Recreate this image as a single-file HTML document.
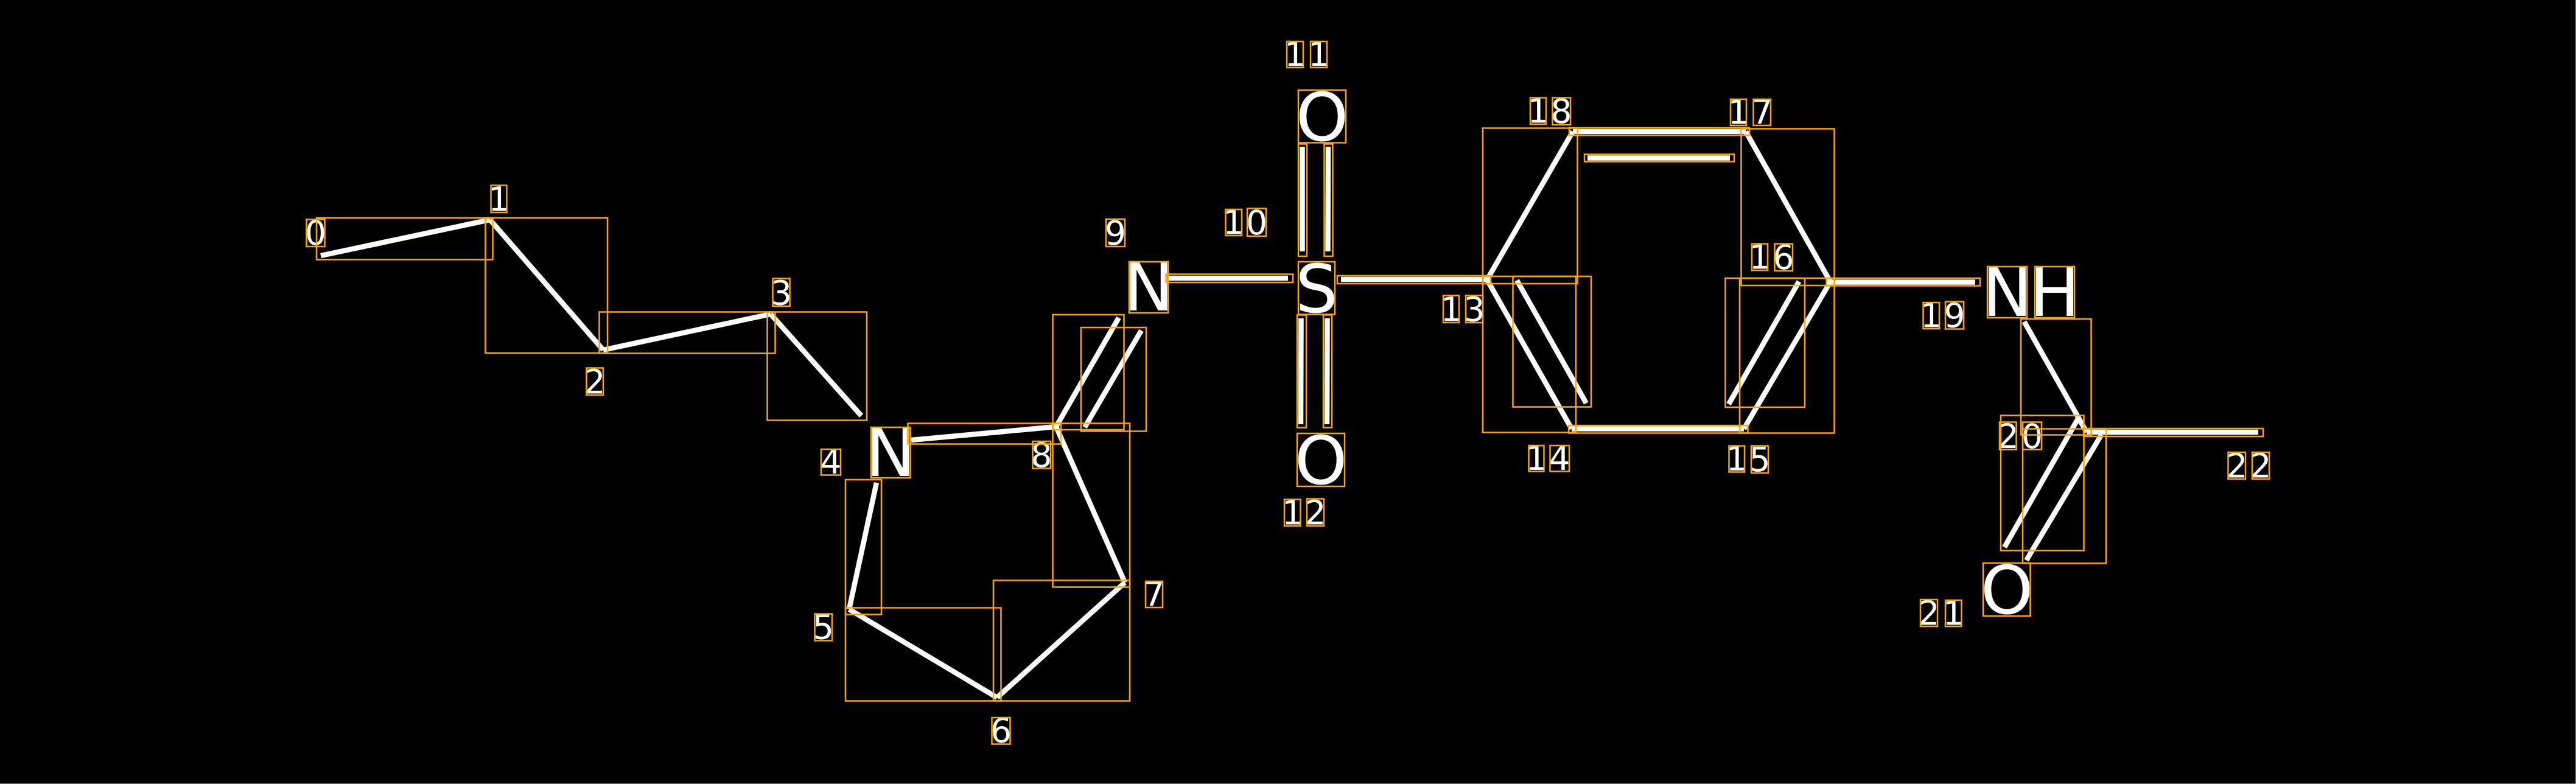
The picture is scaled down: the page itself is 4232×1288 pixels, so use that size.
<!DOCTYPE html>
<html>
<head>
<meta charset="utf-8">
<style>
html,body{margin:0;padding:0;background:#000;width:4232px;height:1288px;overflow:hidden}
svg{display:block}
.a{font-family:"DejaVu Sans",sans-serif;font-size:110px;fill:#fff;text-anchor:middle}
.n{font-family:"DejaVu Sans",sans-serif;font-size:55px;fill:#fff;text-anchor:middle}
.b line{stroke:#fff;stroke-width:8.5;stroke-linecap:butt}
.r rect{fill:none;stroke:#ffa500;stroke-width:2.5}
</style>
</head>
<body>
<svg xmlns="http://www.w3.org/2000/svg" width="4232" height="1288" viewBox="0 0 4232 1288">
<rect width="4232" height="1288" fill="#000"/>
<rect x="0" y="1287" width="4232" height="1" fill="#888"/>
<rect x="4231" y="0" width="1" height="1288" fill="#888"/>

<g class="b">
<line x1="527" y1="420" x2="805" y2="361"/>
<line x1="805" y1="361" x2="991" y2="575"/>
<line x1="991" y1="575" x2="1266" y2="516"/>
<line x1="1266" y1="516" x2="1415" y2="683"/>
<line x1="1497" y1="723" x2="1735" y2="701"/>
<line x1="1440" y1="793" x2="1395" y2="1001"/>
<line x1="1395" y1="1001" x2="1638" y2="1146"/>
<line x1="1638" y1="1146" x2="1848" y2="957"/>
<line x1="1848" y1="957" x2="1735" y2="701"/>
<line x1="1735" y1="701" x2="1838" y2="522"/>
<line x1="1782" y1="702" x2="1875" y2="543"/>
<line x1="1920" y1="457" x2="2116" y2="457"/>
<line x1="2139.5" y1="241" x2="2139.5" y2="413"/>
<line x1="2182" y1="241" x2="2181.5" y2="413"/>
<line x1="2137.5" y1="523" x2="2137" y2="697"/>
<line x1="2180.5" y1="523" x2="2180" y2="697"/>
<line x1="2203" y1="459" x2="2443" y2="459"/>
<line x1="2443" y1="459.5" x2="2584" y2="216"/>
<line x1="2584" y1="216" x2="2868" y2="216"/>
<line x1="2608" y1="259.5" x2="2842" y2="259.5"/>
<line x1="2868" y1="216" x2="3007" y2="463"/>
<line x1="3007" y1="463" x2="2865" y2="704.5"/>
<line x1="2955.5" y1="462.5" x2="2840" y2="664"/>
<line x1="2865" y1="704.5" x2="2582" y2="704.5"/>
<line x1="2582" y1="704.5" x2="2443" y2="459.5"/>
<line x1="2492" y1="460.5" x2="2606" y2="662.5"/>
<line x1="3007" y1="463.5" x2="3245" y2="463.5"/>
<line x1="3325.5" y1="528.5" x2="3428" y2="710"/>
<line x1="3415" y1="686" x2="3293" y2="899"/>
<line x1="3452.5" y1="714" x2="3329" y2="920.5"/>
<line x1="3428" y1="710" x2="3710" y2="710"/>
</g>

<g>
<text class="a" x="1463" y="782">N</text>
<text class="a" x="1887" y="510">N</text>
<text class="a" x="2172" y="231">O</text>
<text class="a" x="2163" y="513">S</text>
<text class="a" x="2170" y="795">O</text>
<text class="a" x="3297.5" y="519">N</text>
<text class="a" x="3375.5" y="519">H</text>
<text class="a" x="3297" y="1008">O</text>
</g>

<g>
<text class="n" x="518.5" y="402">0</text>
<text class="n" x="819.5" y="346.5">1</text>
<text class="n" x="977" y="646.5">2</text>
<text class="n" x="1283.5" y="500.5">3</text>
<text class="n" x="1365" y="778">4</text>
<text class="n" x="1352.5" y="1049.5">5</text>
<text class="n" x="1644.5" y="1219.5">6</text>
<text class="n" x="1896" y="995.5">7</text>
<text class="n" x="1711" y="767">8</text>
<text class="n" x="1832.5" y="402">9</text>
<text class="n" x="2026.5" y="384.5">1</text><text class="n" x="2064.5" y="385">0</text>
<text class="n" x="2127.5" y="108.5">1</text><text class="n" x="2166.5" y="108.5">1</text>
<text class="n" x="2123.5" y="861.5">1</text><text class="n" x="2161" y="861.5">2</text>
<text class="n" x="2384" y="527.5">1</text><text class="n" x="2422" y="527.5">3</text>
<text class="n" x="2524" y="772">1</text><text class="n" x="2562" y="772">4</text>
<text class="n" x="2853" y="773">1</text><text class="n" x="2891" y="774">5</text>
<text class="n" x="2891" y="441.5">1</text><text class="n" x="2930" y="442">6</text>
<text class="n" x="2856" y="203.5">1</text><text class="n" x="2895" y="203.5">7</text>
<text class="n" x="2527" y="201.5">1</text><text class="n" x="2565" y="202">8</text>
<text class="n" x="3172.5" y="537.5">1</text><text class="n" x="3211" y="537.5">9</text>
<text class="n" x="3299" y="736">2</text><text class="n" x="3338.5" y="736">0</text>
<text class="n" x="3169" y="1026.5">2</text><text class="n" x="3209" y="1026.5">1</text>
<text class="n" x="3675" y="784.5">2</text><text class="n" x="3714" y="784.5">2</text>
</g>

<g class="r">
<rect x="520" y="358" width="289.5" height="68.5"/>
<rect x="797.5" y="358" width="200.5" height="222"/>
<rect x="984.5" y="512.5" width="289" height="68"/>
<rect x="1260.5" y="512.5" width="163.5" height="178"/>
<rect x="1491.5" y="695.5" width="251.5" height="34"/>
<rect x="1389" y="788" width="59" height="221.5"/>
<rect x="1389" y="998.5" width="255.5" height="153"/>
<rect x="1632" y="953.5" width="224" height="198"/>
<rect x="1729.5" y="695.5" width="126.5" height="269"/>
<rect x="1729.5" y="517" width="117" height="189"/>
<rect x="1776" y="538" width="107" height="170.5"/>
<rect x="1915.5" y="450.5" width="208.5" height="13.5"/>
<rect x="2133" y="236.5" width="14" height="184.5"/>
<rect x="2175.5" y="236.5" width="14" height="184.5"/>
<rect x="2131" y="517.5" width="15" height="185"/>
<rect x="2174" y="517.5" width="14" height="185"/>
<rect x="2197" y="453" width="252" height="13"/>
<rect x="2436" y="210.5" width="155.5" height="255.5"/>
<rect x="2436" y="454" width="153" height="256.5"/>
<rect x="2485.5" y="454" width="128.5" height="214.5"/>
<rect x="2577" y="699" width="294.5" height="12.5"/>
<rect x="2578" y="210" width="296" height="12.5"/>
<rect x="2603" y="253.5" width="246" height="12"/>
<rect x="2860.5" y="211.5" width="153" height="257.5"/>
<rect x="2858" y="457" width="155.5" height="254.5"/>
<rect x="2834.5" y="457" width="130.5" height="212"/>
<rect x="3000.5" y="457" width="252.5" height="12.5"/>
<rect x="3320" y="524" width="115.5" height="190.5"/>
<rect x="3287" y="682.5" width="136.5" height="222"/>
<rect x="3323" y="704.5" width="137" height="221"/>
<rect x="3423" y="704" width="295" height="13"/>
<!-- atoms -->
<rect x="1431" y="702" width="64.5" height="83"/>
<rect x="1855" y="430" width="64" height="84"/>
<rect x="2133" y="148" width="78" height="86.5"/>
<rect x="2133" y="430" width="60" height="86.5"/>
<rect x="2131" y="712" width="78" height="87"/>
<rect x="3265" y="438" width="65" height="84"/>
<rect x="3343" y="438" width="65" height="84"/>
<rect x="3258" y="925" width="77.5" height="87"/>
<!-- labels -->
<rect x="503.5" y="360.5" width="30" height="44.5"/>
<rect x="806.5" y="304.5" width="26" height="44.5"/>
<rect x="963.5" y="604.5" width="27.5" height="44.5"/>
<rect x="1269.5" y="457.5" width="28" height="45.5"/>
<rect x="1349" y="738" width="32" height="42.5"/>
<rect x="1338.5" y="1008.5" width="28.5" height="44"/>
<rect x="1629.5" y="1179" width="30" height="43.5"/>
<rect x="1882" y="955" width="28" height="43"/>
<rect x="1696.5" y="725" width="29.5" height="44.5"/>
<rect x="1817" y="360" width="31" height="45"/>
<rect x="2013.5" y="344" width="26.5" height="43"/>
<rect x="2049" y="342.5" width="31" height="45.5"/>
<rect x="2114" y="68" width="27" height="43"/>
<rect x="2153" y="68" width="27" height="43"/>
<rect x="2110" y="820.5" width="26.5" height="43.5"/>
<rect x="2147" y="819.5" width="28" height="44.5"/>
<rect x="2371" y="485.5" width="26" height="44.5"/>
<rect x="2408" y="485.5" width="28" height="44.5"/>
<rect x="2511.5" y="732" width="25" height="42.5"/>
<rect x="2546.5" y="732" width="31.5" height="42.5"/>
<rect x="2840.5" y="732.5" width="25.5" height="43"/>
<rect x="2877" y="732.5" width="28" height="44.5"/>
<rect x="2878" y="400.5" width="26" height="43.5"/>
<rect x="2915.5" y="400.5" width="29.5" height="44.5"/>
<rect x="2843" y="163" width="26" height="43"/>
<rect x="2880.5" y="163" width="28.5" height="43"/>
<rect x="2514" y="160.5" width="26" height="43.5"/>
<rect x="2550.5" y="160.5" width="29.5" height="44.5"/>
<rect x="3159.5" y="497" width="26.5" height="43"/>
<rect x="3196" y="495.5" width="30" height="45"/>
<rect x="3285" y="693.5" width="27.5" height="45"/>
<rect x="3323" y="693.5" width="31" height="45"/>
<rect x="3155" y="985" width="28" height="44"/>
<rect x="3196" y="986" width="26.5" height="43"/>
<rect x="3660.5" y="743" width="28.5" height="44"/>
<rect x="3700" y="743" width="28" height="44"/>
</g>
</svg>
</body>
</html>
